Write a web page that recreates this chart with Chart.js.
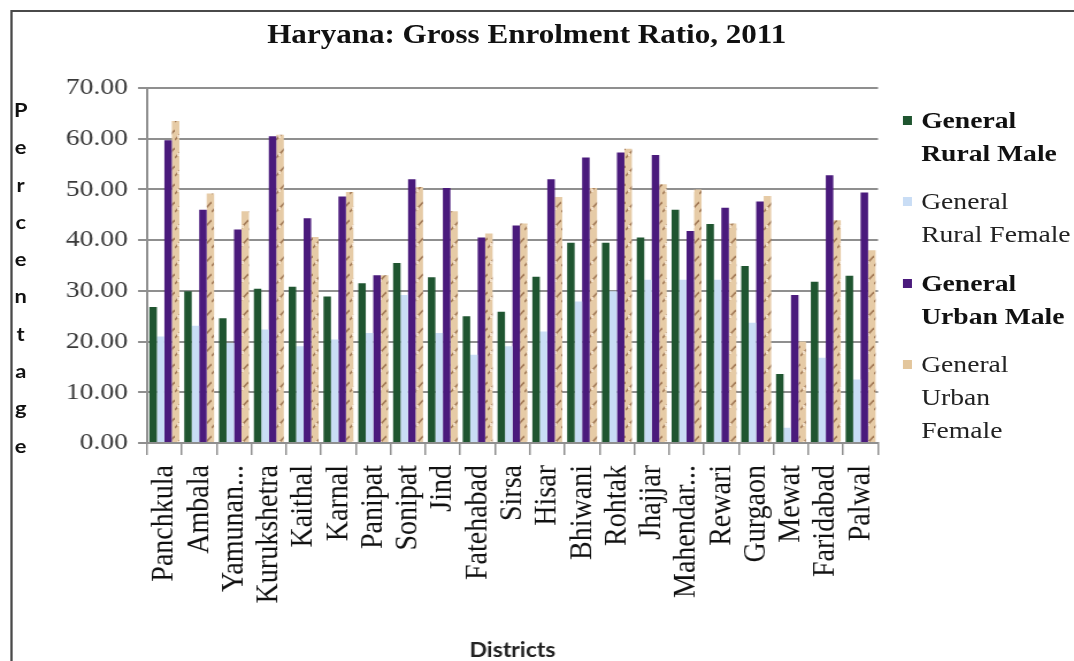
<!DOCTYPE html>
<html>
<head>
<meta charset="utf-8">
<script src="https://cdn.jsdelivr.net/npm/chart.js@4.4.1/dist/chart.umd.min.js"></script>
<style>
  html, body { margin: 0; padding: 0; background: #fff; overflow: hidden; }
  #wrap {
    position: absolute; left: 0; top: 0; width: 934px; height: 661px;
    transform: scaleX(1.15); transform-origin: 0 0;
  }
  #frame {
    position: absolute; left: 8.7px; top: 10px; width: 1000px; height: 800px;
    border: 2px solid #4a4a4a;
  }
  #c { position: absolute; left: 0; top: 0; }
  #title {
    position: absolute; left: 0; top: 19px; width: 916px; text-align: center;
    font: bold 27px "Liberation Serif", serif; color: #111;
  }
  #ytitle {
    position: absolute; left: 8px; top: 91px; width: 20px; text-align: center;
    font: bold 19px Lato, sans-serif; line-height: 37.3px; color: #111;
  }
  #legend { position: absolute; left: 785px; top: 103.5px; }
  .item { position: relative; padding-left: 16px; width: 133px; margin-bottom: 15.5px;
    font: 24px "Liberation Serif", serif; line-height: 33px; color: #222; }
  .item.bold { font-weight: bold; color: #111; }
  .box { position: absolute; left: 0; top: 12px; width: 7.5px; height: 9px; }
</style>
</head>
<body>
<div id="wrap">
  <div id="frame"></div>
  <canvas id="c" width="934" height="661"></canvas>
  <div id="title">Haryana: Gross Enrolment Ratio, 2011</div>
  <div id="ytitle"></div>
  <div id="legend"></div>
</div>
<script>
const districts = ["Panchkula", "Ambala", "Yamunan...", "Kurukshetra", "Kaithal", "Karnal",
  "Panipat", "Sonipat", "Jind", "Fatehabad", "Sirsa", "Hisar", "Bhiwani", "Rohtak",
  "Jhajjar", "Mahendar...", "Rewari", "Gurgaon", "Mewat", "Faridabad", "Palwal"];

const ruralMale = [26.8, 29.9, 24.6, 30.4, 30.8, 28.9, 31.5, 35.5, 32.7, 25.0, 25.9,
  32.8, 39.5, 39.5, 40.5, 46.0, 43.2, 34.9, 13.6, 31.8, 33.0];
const ruralFemale = [21.0, 23.1, 19.7, 22.4, 19.1, 20.4, 21.7, 29.2, 21.7, 17.4, 19.1,
  22.0, 27.9, 29.9, 32.2, 32.2, 32.2, 23.7, 3.0, 16.8, 12.5];
const urbanMale = [59.7, 46.0, 42.1, 60.5, 44.3, 48.6, 33.1, 52.0, 50.3, 40.5, 42.9,
  52.0, 56.3, 57.3, 56.8, 41.8, 46.4, 47.6, 29.2, 52.8, 49.4];
const urbanFemale = [63.5, 49.2, 45.7, 60.8, 40.6, 49.5, 33.1, 50.5, 45.7, 41.3, 43.3,
  48.5, 50.3, 58.0, 51.0, 50.0, 43.3, 48.7, 20.0, 43.9, 38.0];

const seriesNames = ["General Rural Male", "General Rural Female", "General Urban Male", "General Urban Female"];
const yTicks = [0, 10, 20, 30, 40, 50, 60, 70];
const yTitle = "Percentage";

// marbled tan fill for the urban female bars
function tanPattern() {
  const p = document.createElement("canvas");
  p.width = 8; p.height = 18;
  const g = p.getContext("2d");
  g.fillStyle = "#e6cba6";
  g.fillRect(0, 0, 8, 18);
  g.strokeStyle = "rgba(140, 95, 60, 0.75)";
  g.lineWidth = 1.6;
  g.beginPath();
  g.moveTo(0, 14); g.lineTo(8, 4);
  g.stroke();
  g.fillStyle = "rgba(255, 240, 220, 0.8)";
  g.fillRect(2, 9, 2, 3);
  return g.createPattern(p, "repeat");
}

const colors = ["#1f5530", "#c9ddf5", "#4a1a7c", tanPattern()];
const legendColors = ["#1f5530", "#c9ddf5", "#4a1a7c", "#e3c69c"];
const values = [ruralMale, ruralFemale, urbanMale, urbanFemale];

// y title: one letter per line
document.getElementById("ytitle").innerHTML = yTitle.split("").join("<br>");

// legend
const legend = document.getElementById("legend");
seriesNames.forEach((name, i) => {
  const item = document.createElement("div");
  item.className = "item" + (i % 2 === 0 ? " bold" : "");
  item.innerHTML = '<span class="box" style="background:' + legendColors[i] + '"></span>' + name;
  legend.appendChild(item);
});

new Chart(document.getElementById("c"), {
  type: "bar",
  data: {
    labels: districts,
    datasets: values.map((v, i) => ({
      label: seriesNames[i],
      data: v,
      backgroundColor: colors[i],
      borderWidth: 0,
      categoryPercentage: 0.86,
      barPercentage: 1.0,
    })),
  },
  options: {
    responsive: false,
    animation: false,
    devicePixelRatio: 1,
    layout: { padding: { left: 0, right: 170.5, top: 88, bottom: 0 } },
    plugins: {
      legend: { display: false },
      title: { display: false },
      tooltip: { enabled: false },
    },
    scales: {
      x: {
        grid: { display: true, drawOnChartArea: false, offset: true, tickLength: 12, color: "#8f8f8f", lineWidth: 1.5 },
        border: { display: true, color: "#8f8f8f", width: 2 },
        ticks: {
          autoSkip: false, minRotation: 90, maxRotation: 90, padding: 10,
          color: "#111", font: { family: "'Liberation Serif', serif", size: 28 },
        },
        title: {
          display: true, text: "Districts", color: "#222",
          font: { family: "Lato, sans-serif", size: 20, weight: "bold", lineHeight: 1 },
          padding: { top: 0, bottom: 0 },
        },
        afterFit: (s) => { s.height = 218; },
      },
      y: {
        min: 0, max: 70,
        afterBuildTicks: (s) => { s.ticks = yTicks.map((v) => ({ value: v })); },
        grid: { color: "#8f8f8f", lineWidth: 2, tickLength: 7.8 },
        border: { display: true, color: "#8f8f8f", width: 2 },
        ticks: {
          padding: 8.7, color: "#3a3a3a",
          font: { family: "'Liberation Serif', serif", size: 24 },
          callback: (v) => Number(v).toFixed(2),
        },
        afterFit: (s) => { s.width = 127.8; },
      },
    },
  },
});
</script>
</body>
</html>
